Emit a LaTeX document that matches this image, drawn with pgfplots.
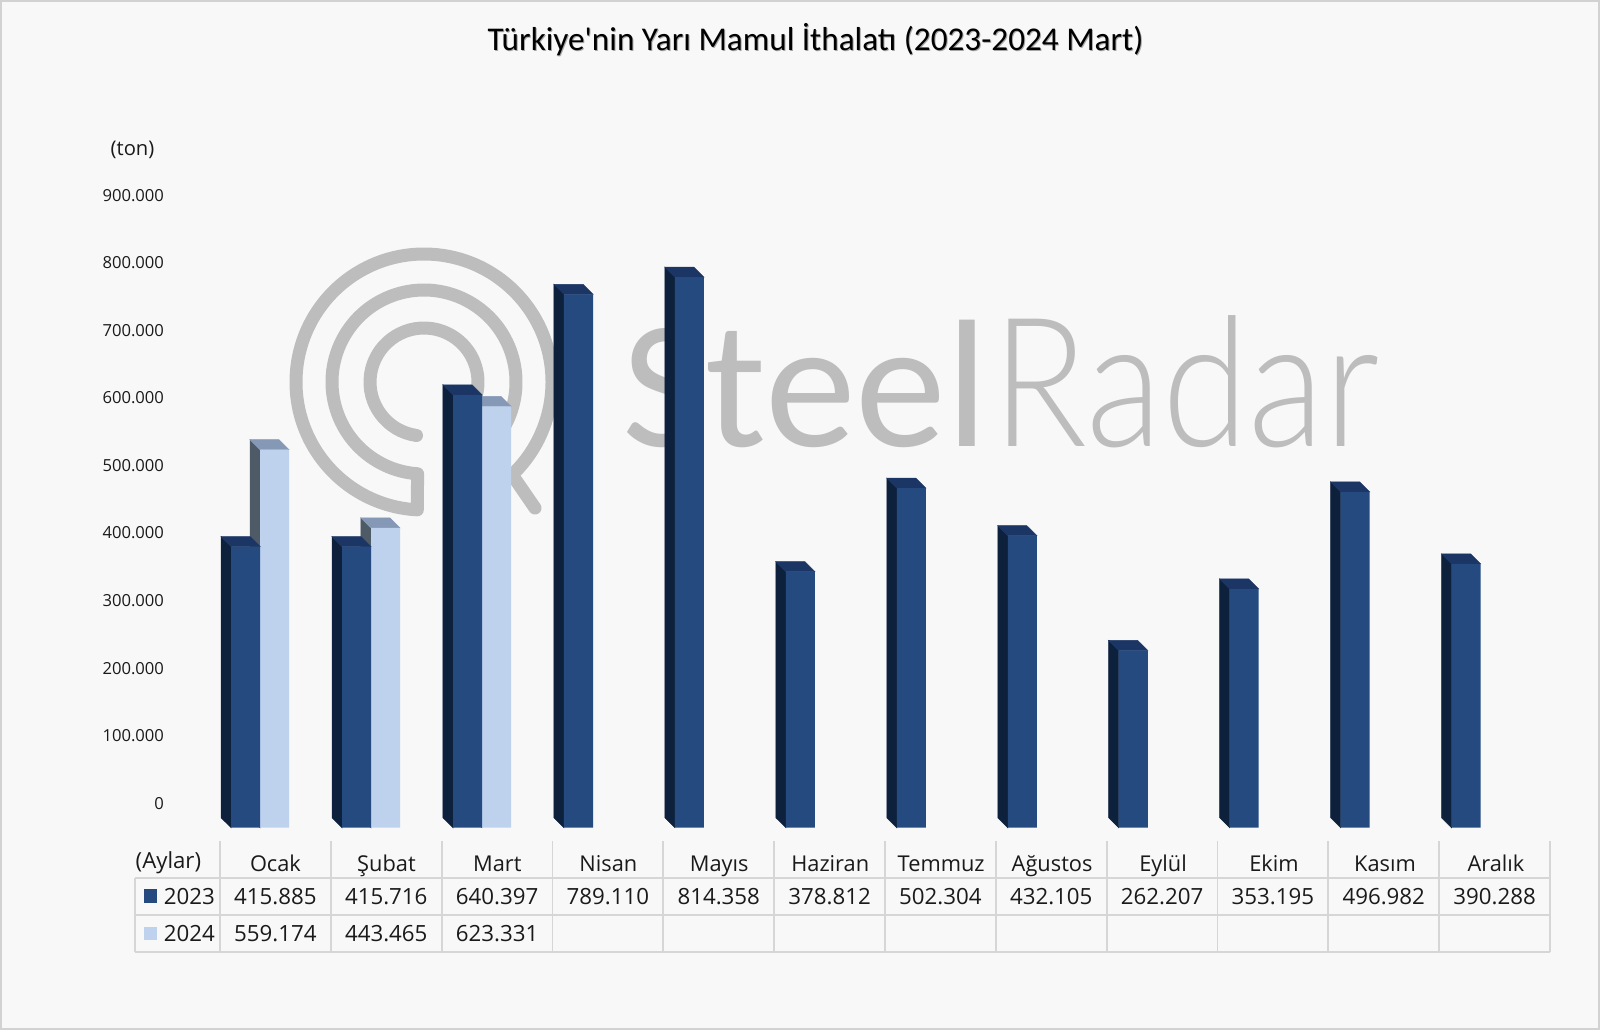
\documentclass[border=0pt]{standalone}
\usepackage{pgfplots}
\usepackage{pgfplotstable}
\usepackage{fontspec}
\pgfplotsset{compat=1.18}
\setmainfont{Open Sans}
\newfontfamily\titlefont{Carlito}
\newfontfamily\wmbold{Carlito}
\newfontfamily\wmlight{Lato}[UprightFont=* Light]
\definecolor{bg}{HTML}{F8F8F8}
\definecolor{frame}{HTML}{D2D2D2}
\definecolor{wm}{HTML}{BDBDBD}
\definecolor{gridc}{HTML}{D6D6D6}
\definecolor{txt}{HTML}{1A1A1A}
\definecolor{fA}{HTML}{254A80}
\definecolor{tA}{HTML}{1B3564}
\definecolor{sA}{HTML}{0D213D}
\definecolor{fB}{HTML}{BED2EE}
\definecolor{tB}{HTML}{8599B7}
\definecolor{sB}{HTML}{4E5A66}
\pgfplotstableread{
i v
0 415885
1 415716
2 640397
3 789110
4 814358
5 378812
6 502304
7 432105
8 262207
9 353195
10 496982
11 390288
}\dataA
\pgfplotstableread{
i v
0 559174
1 443465
2 623331
}\dataB
% depth faces of one bar: month index, left offset, value, side colour, top colour
\newcommand\depthfaces[5]{%
  \edef\xa{\fpeval{#1+#2}}%
  \edef\xb{\fpeval{#1+#2+0.2617}}%
  \edef\xc{\fpeval{#1+#2-0.0902}}%
  \edef\xd{\fpeval{#1+#2+0.2617-0.0902}}%
  \edef\yt{\fpeval{#3+14750}}%
  \addplot[fill=#4,draw=#4,line width=0.25pt,forget plot] coordinates {(\xa,0)(\xa,#3)(\xc,\yt)(\xc,14750)} -- cycle;
  \addplot[fill=#5,draw=#5,line width=0.25pt,forget plot] coordinates {(\xa,#3)(\xb,#3)(\xd,\yt)(\xc,\yt)} -- cycle;
}
\newcommand\cellv[3]{\node[anchor=base,font=\fontsize{11.15}{13}\selectfont,text=txt,inner sep=0pt] at ({220+110.83*(#1+0.5)},#2) {#3};}
\begin{document}
\begin{tikzpicture}
% background
\begin{scope}[x=0.5pt,y=-0.5pt]
\fill[bg] (0,0) rectangle (1600,1030);
\draw[frame,line width=1pt] (1,1) rectangle (1599,1029);
\end{scope}
% watermark
\begin{scope}[wm,line width=6.5pt,line cap=round,line join=round]
\draw ([shift={(212pt,-191pt)}]262:27pt) arc[start angle=262,end angle=-20,radius=27pt];
\draw ([shift={(212pt,-191pt)}]-30:46pt) arc[start angle=-30,end angle=266,radius=46pt] -- ([shift={(212pt,-191pt)}]267:64pt) arc[start angle=267,end angle=-45,radius=64pt];
\draw (256.5pt,-238pt) -- (267.5pt,-254pt);
\end{scope}
\begin{scope}[x=0.5pt,y=-0.5pt]
\node[anchor=base west,inner sep=0pt,text=wm,font=\wmbold] at (622,446) {\fontsize{91}{91}\selectfont Steel};
\node[anchor=base west,inner sep=0pt,text=wm,font=\wmlight] at (992,446) {\scalebox{0.87}[1]{\fontsize{90}{90}\selectfont Radar}};
\end{scope}
% value axis labels
\begin{axis}[
  at={(82.15pt,-401.6pt)},anchor=south west,scale only axis,
  width=665pt,height=304pt,
  xmin=0,xmax=1,ymin=0,ymax=900000,
  axis x line=none,axis y line=left,
  axis line style={draw=none},
  ytick distance=100000,
  major tick length=0pt,
  scaled y ticks=false,
  tick label style={font=\fontsize{8.3}{10}\selectfont,text=txt},
  yticklabel style={inner sep=0pt,/pgf/number format/.cd,assume math mode=true,fixed,precision=0,1000 sep={.}},
]
\addplot[draw=none,forget plot] coordinates {(0,0)(1,900000)};
\end{axis}
% bars
\begin{axis}[
  at={(110pt,-413.85pt)},anchor=south west,scale only axis,
  width=665.7pt,height=338pt,
  xmin=-0.5,xmax=11.5,ymin=0,ymax=1000000,
  axis y line=none,axis x line=bottom,
  axis line style={draw=none},
  major tick length=0pt,
  clip=false,
  xtick={0,...,11},
  xticklabels={Ocak,Şubat,Mart,Nisan,Mayıs,Haziran,Temmuz,Ağustos,Eylül,Ekim,Kasım,Aralık},
  xticklabel style={font=\fontsize{10.9}{13}\selectfont,text=txt,anchor=base,yshift=-21.8pt,inner sep=0pt},
]
\depthfaces{0}{-0.139}{559174}{sB}{tB}
\depthfaces{1}{-0.139}{443465}{sB}{tB}
\depthfaces{2}{-0.139}{623331}{sB}{tB}
\addplot[ybar,bar width=0.2617,bar shift=-0.008,fill=fB,draw=none] table[x=i,y=v] {\dataB};
\depthfaces{0}{-0.4}{415885}{sA}{tA}
\depthfaces{1}{-0.4}{415716}{sA}{tA}
\depthfaces{2}{-0.4}{640397}{sA}{tA}
\depthfaces{3}{-0.4}{789110}{sA}{tA}
\depthfaces{4}{-0.4}{814358}{sA}{tA}
\depthfaces{5}{-0.4}{378812}{sA}{tA}
\depthfaces{6}{-0.4}{502304}{sA}{tA}
\depthfaces{7}{-0.4}{432105}{sA}{tA}
\depthfaces{8}{-0.4}{262207}{sA}{tA}
\depthfaces{9}{-0.4}{353195}{sA}{tA}
\depthfaces{10}{-0.4}{496982}{sA}{tA}
\depthfaces{11}{-0.4}{390288}{sA}{tA}
\addplot[ybar,bar width=0.2617,bar shift=-0.269,fill=fA,draw=none] table[x=i,y=v] {\dataA};
\end{axis}
% title, unit labels, data table
\begin{scope}[x=0.5pt,y=-0.5pt]
\node[anchor=base,inner sep=0pt,text=black!35,font=\titlefont\fontsize{16.6}{18}\selectfont] at (816.5,51) {Türkiye'nin Yarı Mamul İthalatı (2023-2024 Mart)};
\node[anchor=base,inner sep=0pt,text=black,font=\titlefont\fontsize{16.6}{18}\selectfont] at (815.5,50) {Türkiye'nin Yarı Mamul İthalatı (2023-2024 Mart)};
\node[anchor=base,inner sep=0pt,text=txt,font=\fontsize{10.1}{12}\selectfont] at (132.5,155) {(ton)};
\node[anchor=base west,inner sep=0pt,text=txt,font=\fontsize{11.1}{13}\selectfont] at (135.3,868.5) {(Aylar)};
% grid of the table
\begin{scope}[gridc,line width=0.9pt]
\draw (135.3,877.7) -- (1550,877.7);
\draw (135.3,915) -- (1550,915);
\draw (135.3,952.3) -- (1550,952.3);
\draw (135.3,877.7) -- (135.3,952.3);
\foreach \k in {0,...,12} \draw ({220+110.83*\k},841) -- ({220+110.83*\k},952.3);
\end{scope}
% row keys
\fill[fA] (144,889) rectangle (157,903);
\fill[fB] (144,926.7) rectangle (157,940);
\node[anchor=base west,inner sep=0pt,text=txt,font=\fontsize{11.15}{13}\selectfont] at (163.5,904) {2023};
\node[anchor=base west,inner sep=0pt,text=txt,font=\fontsize{11.15}{13}\selectfont] at (163.5,941.4) {2024};
\cellv{0}{904}{415.885}\cellv{1}{904}{415.716}\cellv{2}{904}{640.397}\cellv{3}{904}{789.110}
\cellv{4}{904}{814.358}\cellv{5}{904}{378.812}\cellv{6}{904}{502.304}\cellv{7}{904}{432.105}
\cellv{8}{904}{262.207}\cellv{9}{904}{353.195}\cellv{10}{904}{496.982}\cellv{11}{904}{390.288}
\cellv{0}{941.4}{559.174}\cellv{1}{941.4}{443.465}\cellv{2}{941.4}{623.331}
\end{scope}
\end{tikzpicture}
\end{document}
